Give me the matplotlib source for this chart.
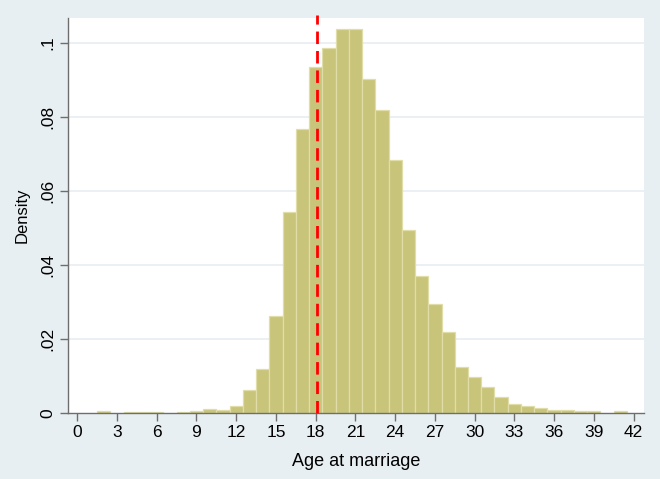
import numpy as np
import matplotlib.pyplot as plt

plt.rcParams['font.family'] = ['Liberation Sans', 'DejaVu Sans']

# bar centres (age) and density heights
ages = [2, 4, 5, 6, 8, 9, 10, 11, 12, 13, 14, 15, 16, 17, 18, 19, 20, 21,
        22, 23, 24, 25, 26, 27, 28, 29, 30, 31, 32, 33, 34, 35, 36, 37, 38,
        39, 41]
density = [0.0005, 0.0004, 0.0004, 0.0004, 0.0004, 0.0006, 0.0012, 0.0008,
           0.0018, 0.0063, 0.0119, 0.0261, 0.0543, 0.0768, 0.0935, 0.0986,
           0.1039, 0.1037, 0.0904, 0.0820, 0.0683, 0.0496, 0.0371, 0.0294,
           0.0220, 0.0124, 0.0097, 0.0069, 0.0044, 0.0024, 0.0020, 0.0013,
           0.0009, 0.0008, 0.0005, 0.0005, 0.0005]
cutoff = 18.1

xticks = list(range(0, 43, 3))
yticks = [0, 0.02, 0.04, 0.06, 0.08, 0.1]
ytick_labels = ['0', '.02', '.04', '.06', '.08', '.1']

bg = '#e8eff2'
axis_col = '#6e6e6e'

fig = plt.figure(figsize=(6.6, 4.79), dpi=100, facecolor=bg)
ax = fig.add_axes([0.103, 0.1378, 0.873, 0.8246])
ax.set_facecolor('white')

for y in yticks[1:]:
    ax.axhline(y, color='#e6eef1', lw=1.2, zorder=0)

ax.bar(ages, density, width=1.0, color='#c8c47a', edgecolor='#e0dda8',
       linewidth=0.9, zorder=2)

ax.plot([cutoff, cutoff], [0, 0.1077], color='#ff0000', lw=2,
        linestyle=(0, (4.5, 2.5)), clip_on=False, zorder=3)

ax.set_xlim(-0.7, 42.8)
ax.set_ylim(0, 0.1068)
ax.set_xticks(xticks)
ax.set_yticks(yticks)
ax.set_yticklabels(ytick_labels, rotation=90, va='center')

for s in ['top', 'right']:
    ax.spines[s].set_visible(False)
for s in ['left', 'bottom']:
    ax.spines[s].set_color(axis_col)
    ax.spines[s].set_linewidth(1.0)

ax.tick_params(axis='both', direction='out', length=6, width=1,
               color=axis_col, labelsize=12.5, labelcolor='black')
ax.tick_params(axis='x', pad=3)
ax.tick_params(axis='y', pad=3)

ax.set_xlabel('Age at marriage', fontsize=13, labelpad=9)
ax.set_ylabel('Density', fontsize=12, labelpad=8)

fig.savefig('out.png', dpi=100, facecolor=bg)
